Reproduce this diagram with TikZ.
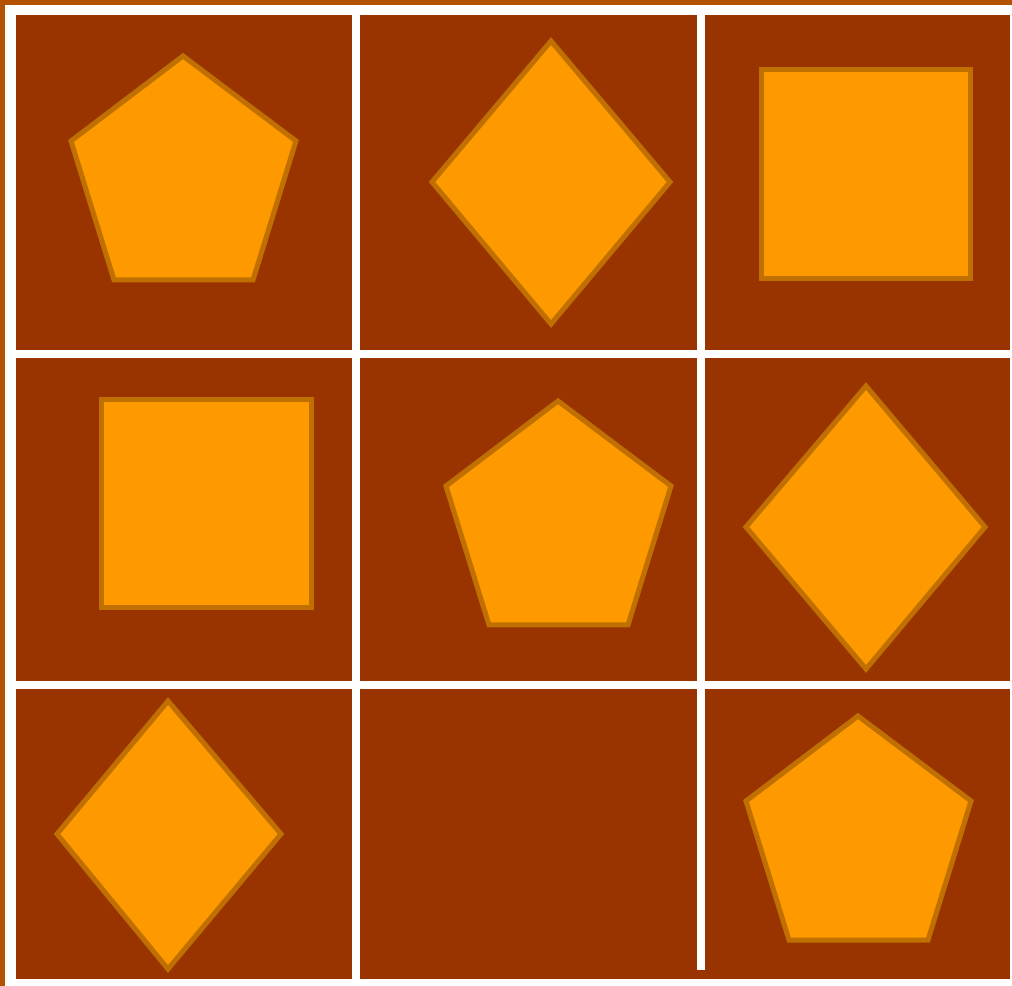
\documentclass[tikz,border=0pt]{standalone}
\usetikzlibrary{calc}
\definecolor{frameorange}{RGB}{179, 82, 0}
\definecolor{cellbrown}{RGB}{153, 51, 0}
\definecolor{shapeorange}{RGB}{255, 153, 0}
\definecolor{shapeedge}{RGB}{191, 112, 0}

\begin{document}
\begin{tikzpicture}[x=0.02cm, y=-0.02cm]
    \tikzstyle{cell}=[fill=cellbrown]
    \tikzstyle{tile}=[fill=shapeorange, draw=shapeedge, line width=0.1cm, line join=miter]

    % Frame and grid lines
    \fill[frameorange] (0,0) rectangle (1012,986);
    \fill[white] (5,5) rectangle (1012,986);

    % Cells
    \foreach \xa/\xb in {16/352,360/697,705/1010} {
        \foreach \ya/\yb in {15/350,358/681,689/979} {
            \fill[cell] (\xa,\ya) rectangle (\xb,\yb);
        }
    }
    \fill[cell] (696,970) rectangle (706,979);

    % Pentagons
    \foreach \dx/\dy in {0/0,375/345,675/660} {
        \draw[tile] ($(183,56)+(\dx,\dy)$) -- ($(296,141)+(\dx,\dy)$) -- ($(253,280)+(\dx,\dy)$)
            -- ($(114,280)+(\dx,\dy)$) -- ($(71,141)+(\dx,\dy)$) -- cycle;
    }

    % Diamonds
    \draw[tile] (551,41) -- (670,182) -- (551,324) -- (432,182) -- cycle;
    \draw[tile] (866,386) -- (985,527) -- (866,669) -- (746,527) -- cycle;
    \draw[tile] (168,701) -- (281,834) -- (168,969) -- (57,834) -- cycle;

    % Squares
    \draw[tile] (761,70) rectangle (970,279);
    \draw[tile] (101,400) rectangle (311,608);
\end{tikzpicture}
\end{document}
